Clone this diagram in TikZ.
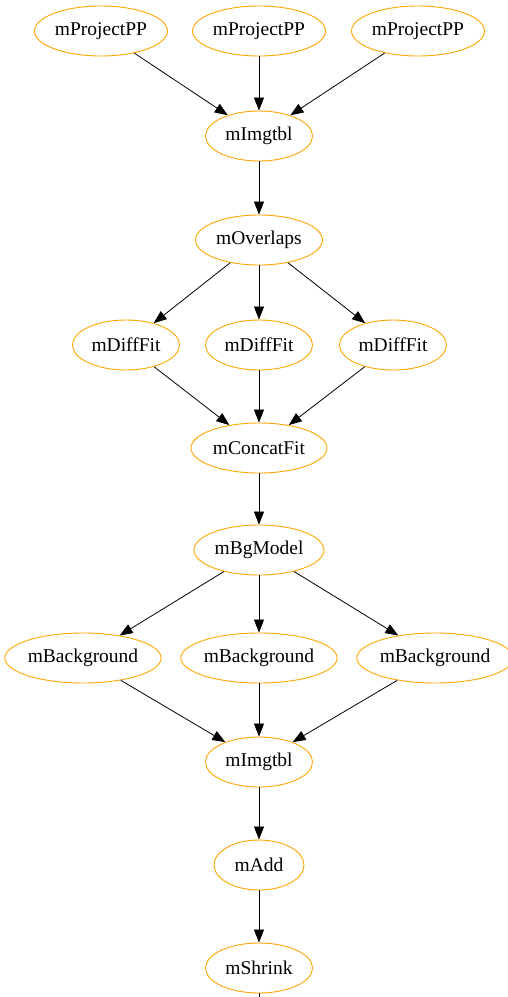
\documentclass[tikz,border=0pt]{standalone}
\usepackage{fontspec}
\setmainfont{Liberation Serif}
\usetikzlibrary{shapes.geometric,arrows.meta}
\definecolor{gvorange}{HTML}{FFA500}
\begin{document}
\begin{tikzpicture}[x=1pt,y=-1pt,
  job/.style={ellipse,draw=gvorange,line width=0.9pt,inner sep=0pt,minimum height=50pt,font=\fontsize{19.5}{22}\selectfont},
  edge/.style={draw=black,line width=0.8pt,-{Triangle[length=13pt,width=10pt]}}]
\useasboundingbox (0,0) rectangle (508,997);
\clip (0,0) rectangle (508,997);
\node[job,minimum width=133pt] (p1) at (101,31) {mProjectPP};
\node[job,minimum width=133pt] (p2) at (259,31) {mProjectPP};
\node[job,minimum width=133pt] (p3) at (418,31) {mProjectPP};
\node[job,minimum width=107pt] (i1) at (259,136) {mImgtbl};
\node[job,minimum width=127pt] (ov) at (259,240) {mOverlaps};
\node[job,minimum width=107pt] (d1) at (126,345) {mDiffFit};
\node[job,minimum width=107pt] (d2) at (259,345) {mDiffFit};
\node[job,minimum width=107pt] (d3) at (393,345) {mDiffFit};
\node[job,minimum width=136pt] (cf) at (259,448) {mConcatFit};
\node[job,minimum width=130pt] (bg) at (259,550) {mBgModel};
\node[job,minimum width=151pt] (b1) at (83,658) {mBackground};
\node[job,minimum width=150pt] (b2) at (259,658) {mBackground};
\node[job,minimum width=148pt] (b3) at (435,658) {mBackground};
\node[job,minimum width=107pt] (i2) at (259,762) {mImgtbl};
\node[job,minimum width=90pt] (ad) at (259,865) {mAdd};
\node[job,minimum width=107pt] (sh) at (259,968) {mShrink};
\coordinate (out) at (259,1020);
\foreach \a in {p1,p2,p3} \draw[edge] (\a) -- (i1);
\draw[edge] (i1) -- (ov);
\foreach \a in {d1,d2,d3} \draw[edge] (ov) -- (\a);
\foreach \a in {d1,d2,d3} \draw[edge] (\a) -- (cf);
\draw[edge] (cf) -- (bg);
\foreach \a in {b1,b2,b3} \draw[edge] (bg) -- (\a);
\foreach \a in {b1,b2,b3} \draw[edge] (\a) -- (i2);
\draw[edge] (i2) -- (ad);
\draw[edge] (ad) -- (sh);
\draw[line width=0.8pt] (sh) -- (out);
\end{tikzpicture}
\end{document}
